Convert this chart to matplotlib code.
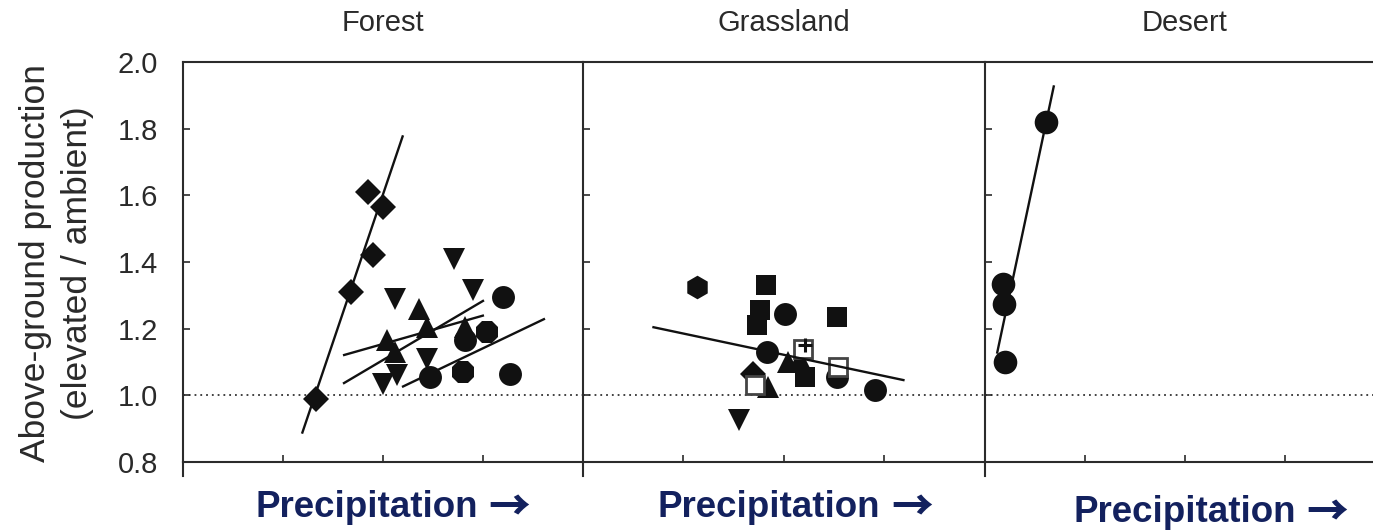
import matplotlib
matplotlib.use("Agg")
import matplotlib.pyplot as plt

plt.rcParams['font.family'] = ['Liberation Sans', 'DejaVu Sans']

panel_titles = ["Forest", "Grassland", "Desert"]
x_label_word = "Precipitation"
x_label_arrow = "\u2192"
y_label = "Above-ground production\n(elevated / ambient)"
y_ticks = [0.8, 1.0, 1.2, 1.4, 1.6, 1.8, 2.0]
y_tick_labels = ["0.8", "1.0", "1.2", "1.4", "1.6", "1.8", "2.0"]
x_ticks = [1, 2, 3]

# Forest sites
forest_diamond_x = [1.33, 1.68, 1.90, 1.85, 2.00]
forest_diamond_y = [0.99, 1.31, 1.42, 1.61, 1.565]
forest_down_x = [2.71, 2.12, 2.90, 2.44, 2.14, 2.00]
forest_down_y = [1.41, 1.29, 1.315, 1.11, 1.06, 1.035]
forest_up_x = [2.36, 2.44, 2.04, 2.12, 2.82]
forest_up_y = [1.26, 1.205, 1.165, 1.13, 1.205]
forest_circle_x = [3.20, 2.82, 2.47, 3.27]
forest_circle_y = [1.295, 1.165, 1.055, 1.065]
forest_oct_x = [3.04, 2.80]
forest_oct_y = [1.19, 1.07]
forest_fit_x = [[1.19, 2.20], [1.60, 3.01], [1.60, 3.01], [2.19, 3.62]]
forest_fit_y = [[0.885, 1.78], [1.12, 1.24], [1.035, 1.285], [1.025, 1.23]]

# Grassland sites
grass_hex_x = [1.13]
grass_hex_y = [1.325]
grass_square_x = [1.82, 1.76, 1.73, 2.53, 2.21]
grass_square_y = [1.33, 1.255, 1.21, 1.235, 1.055]
grass_circle_x = [2.01, 1.83, 2.53, 2.91]
grass_circle_y = [1.245, 1.13, 1.055, 1.015]
grass_diamond_x = [1.69]
grass_diamond_y = [1.065]
grass_up_x = [1.84, 2.04, 2.16]
grass_up_y = [1.025, 1.10, 1.11]
grass_open_x = [2.19, 2.54, 1.71]
grass_open_y = [1.14, 1.085, 1.03]
grass_down_x = [1.55]
grass_down_y = [0.925]
grass_plus_x = [2.21]
grass_plus_y = [1.15]
grass_fit_x = [[0.69, 3.20]]
grass_fit_y = [[1.205, 1.045]]

# Desert site
desert_circle_x = [0.61, 0.18, 0.19, 0.20]
desert_circle_y = [1.82, 1.335, 1.275, 1.10]
desert_fit_x = [[0.12, 0.69]]
desert_fit_y = [[1.125, 1.93]]

INK = "#111111"
FRAME = "#2b2b2b"
TEXT = "#2a2a2a"
NAVY = "#13215e"

W, H = 1373, 532
fig = plt.figure(figsize=(W / 100, H / 100), dpi=100)
bottom, height = 0.1316, 0.7519
lefts = [0.1333, 0.4246, 0.7174]
widths = [0.2913, 0.2928, 0.2913]
axes = [fig.add_axes([l, bottom, w, height]) for l, w in zip(lefts, widths)]


def scatter(ax, xs, ys, marker, ms, fill=INK, edge=INK, mew=0.0):
    ax.plot(xs, ys, linestyle="none", marker=marker, markersize=ms,
            markerfacecolor=fill, markeredgecolor=edge, markeredgewidth=mew,
            zorder=3)


def fits(ax, xs, ys):
    for fx, fy in zip(xs, ys):
        ax.plot(fx, fy, color=INK, linewidth=1.7, zorder=4,
                solid_capstyle="butt")


for i, ax in enumerate(axes):
    ax.set_xlim(0, 4)
    ax.set_ylim(0.8, 2.0)
    ax.set_xticks(x_ticks)
    ax.set_xticklabels([])
    ax.set_yticks(y_ticks)
    if i == 0:
        ax.set_yticklabels(y_tick_labels, fontsize=21, color=TEXT)
    else:
        ax.set_yticklabels([])
    ax.tick_params(direction="in", length=5, width=1.2, color=FRAME, pad=18)
    for side in ("left", "top", "bottom"):
        ax.spines[side].set_color(FRAME)
        ax.spines[side].set_linewidth(1.5)
    ax.spines["right"].set_visible(False)
    ax.axhline(1.0, color="#333333", linewidth=1.3,
               linestyle=(0, (1, 2.2)), zorder=1)
    ax.plot([0, 0], [-0.035, 0], transform=ax.transAxes, color=FRAME,
            linewidth=1.5, clip_on=False)
    ax.set_title(panel_titles[i], fontsize=21, color=TEXT, pad=22)

# "Precipitation ->" under each panel: word plus a chevron-headed arrow glyph
renderer = fig.canvas.get_renderer()
word_left = [255, 658, 1073]
word_base = [517, 517, 522]
for px, py in zip(word_left, word_base):
    word = fig.text(px / W, 1 - py / H, x_label_word, ha="left",
                    va="baseline", fontsize=26.5, fontweight="bold",
                    color=NAVY)
    bb = word.get_window_extent(renderer)
    fig.text((bb.x1 + 11) / W, 1 - (py - 9) / H, x_label_arrow,
             ha="left", va="center", fontsize=30, fontweight="heavy",
             color=NAVY, family=["Noto Sans CJK JP", "DejaVu Sans"])

ax = axes[0]
scatter(ax, forest_diamond_x, forest_diamond_y, "D", 13.5)
scatter(ax, forest_down_x, forest_down_y, "v", 16.5)
scatter(ax, forest_up_x, forest_up_y, "^", 16.5)
scatter(ax, forest_circle_x, forest_circle_y, "o", 16.5)
scatter(ax, forest_oct_x, forest_oct_y, "8", 17)
fits(ax, forest_fit_x, forest_fit_y)

ax = axes[1]
scatter(ax, grass_hex_x, grass_hex_y, "h", 17)
scatter(ax, grass_square_x, grass_square_y, "s", 15)
scatter(ax, grass_circle_x, grass_circle_y, "o", 16.5)
scatter(ax, grass_diamond_x, grass_diamond_y, "D", 13)
scatter(ax, grass_up_x, grass_up_y, "^", 16)
scatter(ax, grass_open_x, grass_open_y, "s", 12.5, fill="white",
        edge="#444444", mew=2.0)
scatter(ax, grass_down_x, grass_down_y, "v", 16)
ax.plot(grass_plus_x, grass_plus_y, linestyle="none", marker="+",
        markersize=10, markeredgewidth=2.2, color=INK, zorder=3)
fits(ax, grass_fit_x, grass_fit_y)

ax = axes[2]
scatter(ax, desert_circle_x, desert_circle_y, "o", 17)
fits(ax, desert_fit_x, desert_fit_y)

fig.text(0.041, 0.505, y_label, rotation=90, ha="center", va="center",
         fontsize=25.5, color=TEXT, linespacing=1.35)

fig.savefig("out.png", dpi=100)
